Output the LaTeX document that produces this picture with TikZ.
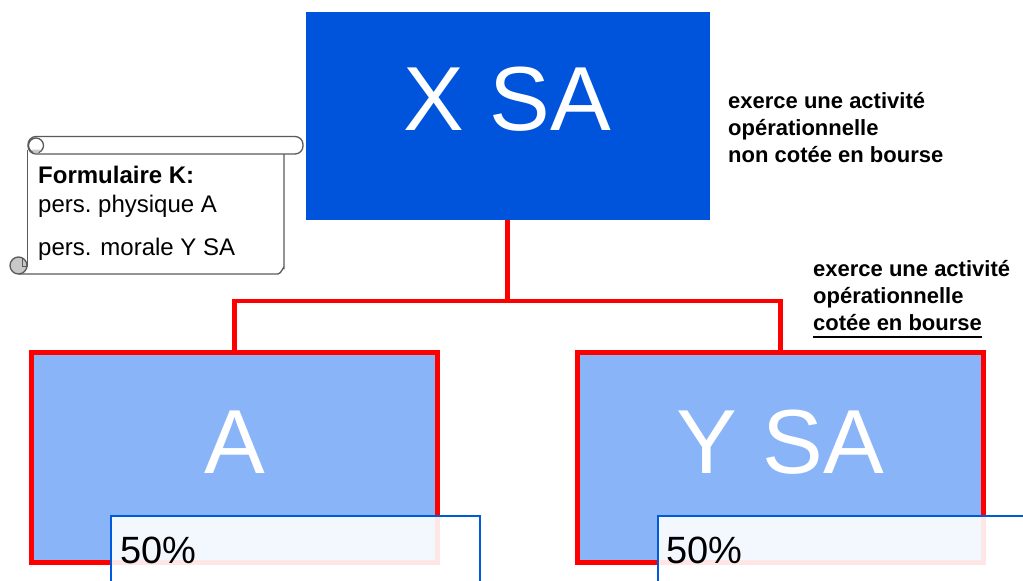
\documentclass[tikz,border=0pt]{standalone}
\usepackage{fontspec}
\setmainfont{Liberation Sans}
\definecolor{xblue}{RGB}{0,84,220}
\definecolor{subfill}{RGB}{138,180,248}
\definecolor{pctblue}{RGB}{0,90,220}
\definecolor{linered}{RGB}{255,0,0}
\definecolor{scrollgray}{RGB}{90,90,90}
\definecolor{curlgray}{RGB}{200,200,200}
\begin{document}
\begin{tikzpicture}[x=1pt,y=-1pt,
  topbox/.style={fill=xblue, draw=none, inner sep=0, outer sep=0, anchor=north west,
    minimum width=404pt, minimum height=208pt},
  subbox/.style={fill=subfill, draw=linered, line width=5pt, inner sep=0, outer sep=0,
    anchor=north west, minimum width=406pt, minimum height=210pt},
  pctbox/.style={fill=white, fill opacity=0.9, draw=pctblue, line width=2pt, inner sep=0,
    outer sep=0, anchor=north west, minimum width=369pt, minimum height=90pt},
  bigtext/.style={text=white, inner sep=0, anchor=base, font=\fontsize{91}{91}\selectfont},
  pcttext/.style={text=black, inner sep=0, anchor=base west, font=\fontsize{38}{38}\selectfont},
  note/.style={text=black, inner sep=0, anchor=base west, font=\bfseries\fontsize{22}{27}\selectfont},
  scrolltext/.style={text=black, inner sep=0, anchor=base west, font=\fontsize{24}{24}\selectfont},
  conn/.style={draw=linered, line width=4.5pt},
  scrollline/.style={draw=scrollgray, line width=1.3pt}
]
\useasboundingbox (0,0) rectangle (1023,581);
\clip (0,0) rectangle (1023,581);

% parent company
\node[topbox] (xsa) at (305.5,11.5) {};
\node[bigtext] (xsalbl) at (507.5,130) {X SA};

% subsidiaries
\node[subbox] (a) at (31.5,352.5) {};
\node[subbox] (ysa) at (577.5,352.5) {};
\node[bigtext] (albl) at (234.5,473) {A};
\node[bigtext] (ysalbl) at (780.5,473) {Y SA};

% ownership tree
\coordinate (fork) at (507.5,301);
\draw[conn] (xsa.south) -- (fork);
\draw[conn] (a.north) |- (fork) -| (ysa.north);

% share boxes
\node[pctbox] (pa) at (111,516) {};
\node[pctbox] (py) at (658,516) {};
\node[pcttext] (pal) at (120,563) {50\%};
\node[pcttext] (pyl) at (666,563) {50\%};

% notes
\node[note] (n1) at (728,108) {exerce une activité};
\node[note] (n2) at (728,135) {opérationnelle};
\node[note] (n3) at (728,162) {non cotée en bourse};
\node[note] (m1) at (813,276) {exerce une activité};
\node[note] (m2) at (813,303) {opérationnelle};
\node[note] (m3) at (813,330) {cotée en bourse};
\draw[line width=1.8pt] ([yshift=-7pt]m3.base west) -- ([yshift=-7pt]m3.base east);

% scroll with form K
\fill[white] (27.5,150) rectangle (284,274);
\draw[scrollline] (27.5,150) -- (27.5,265.5);
\draw[scrollline] (18.5,274) -- (278,274) to[out=0,in=90] (284,268) -- (284,154);
\draw[scrollline, fill=white, rounded corners=8pt] (28,136.5) rectangle (303,154);
\draw[scrollline, fill=white] (36,145.5) circle[radius=7.5];
\fill[curlgray] (32,149.5) -- (40,149.5) arc[start angle=0, end angle=180, radius=4] -- cycle;
\draw[scrollline, fill=curlgray] (18.5,265.5) circle[radius=8.5];
\draw[scrollline] (22.5,259) -- (22.5,266.5) -- (27.5,266.5);
\node[scrolltext, font=\bfseries\fontsize{24}{24}\selectfont] (k1) at (38,183) {Formulaire K:};
\node[scrolltext] (k2) at (38,212) {pers.\ physique A};
\node[scrolltext] (k3) at (38,255) {pers. morale Y SA};
\end{tikzpicture}
\end{document}
